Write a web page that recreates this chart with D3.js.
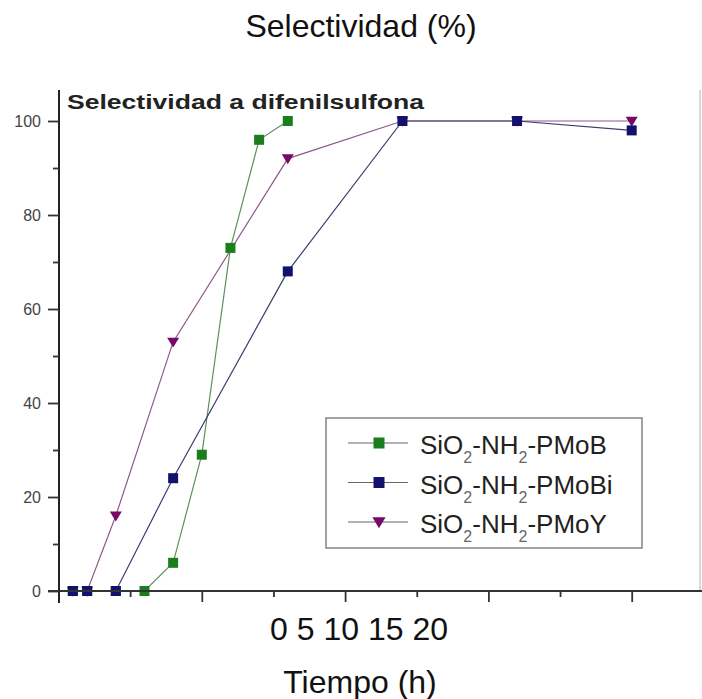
<!DOCTYPE html>
<html>
<head>
<meta charset="utf-8">
<script src="https://cdn.jsdelivr.net/npm/d3@7"></script>
<style>
  html, body { margin: 0; padding: 0; background: #fff; }
  svg { display: block; font-family: "Liberation Sans", Arial, sans-serif; }
</style>
</head>
<body>
<svg id="chart" width="702" height="699"></svg>
<script>
// ---- data ----
const seriesNames = ["PMoB", "PMoBi", "PMoY"];
const timePMoB  = [0.5, 1, 2, 3, 4, 5, 6, 7, 8];
const valuesPMoB = [0, 0, 0, 0, 6, 29, 73, 96, 100];
const timePMoBi  = [0.5, 1, 2, 4, 8, 12, 16, 20];
const valuesPMoBi = [0, 0, 0, 24, 68, 100, 100, 98];
const timePMoY  = [0.5, 1, 2, 4, 8, 12, 16, 20];
const valuesPMoY = [0, 0, 16, 53, 92, 100, 100, 100];
const yTickValues = [0, 20, 40, 60, 80, 100];
const yMinorTicks = [10, 30, 50, 70, 90];
const xMajorTicks = [5, 10, 15, 20];
const xMinorTicks = [2.5, 7.5, 12.5, 17.5];
const xTickText = "0 5 10 15 20";
const titleText = "Selectividad (%)";
const innerTitle = "Selectividad a difenilsulfona";
const xLabel = "Tiempo (h)";

const series = [
  { name: "PMoY", t: timePMoY, v: valuesPMoY, color: "#760a66", line: "#8c5a8a", shape: "tri" },
  { name: "PMoB", t: timePMoB, v: valuesPMoB, color: "#1b7d1b", line: "#5f8f5f", shape: "sq" },
  { name: "PMoBi", t: timePMoBi, v: valuesPMoBi, color: "#12126e", line: "#3c3c6c", shape: "sq" }
];
const legendOrder = ["PMoB", "PMoBi", "PMoY"];

const svg = d3.select("#chart");
const x = d3.scaleLinear().domain([0, 20]).range([58.5, 631.7]);
const y = d3.scaleLinear().domain([0, 100]).range([591, 121]);

// title
svg.append("text").attr("x", 361).attr("y", 37).attr("text-anchor", "middle")
  .attr("font-size", 32).attr("fill", "#111").text(titleText);

// right frame
svg.append("line").attr("x1", 700).attr("x2", 700).attr("y1", 90).attr("y2", 591)
  .attr("stroke", "#b0b0b0").attr("stroke-width", 1);

// series lines and markers
const lineGen = d3.line().x(d => x(d[0])).y(d => y(d[1]));
function marker(g, shape, color, cx, cy, s) {
  if (shape === "sq") {
    g.append("rect").attr("x", cx - s / 2).attr("y", cy - s / 2).attr("width", s).attr("height", s)
      .attr("fill", color);
  } else {
    const h = s * 0.95;
    g.append("path").attr("d", `M${cx - s * 0.6},${cy - h * 0.45} L${cx + s * 0.6},${cy - h * 0.45} L${cx},${cy + h * 0.6} Z`)
      .attr("fill", color);
  }
}
series.forEach(s => {
  const pts = s.t.map((t, i) => [t, s.v[i]]);
  svg.append("path").attr("d", lineGen(pts)).attr("fill", "none")
    .attr("stroke", s.line).attr("stroke-width", 1.2);
});
series.forEach(s => {
  const g = svg.append("g");
  s.t.forEach((t, i) => marker(g, s.shape, s.color, x(t), y(s.v[i]), 10));
});

// axes
const axG = svg.append("g");
axG.append("line").attr("x1", 48).attr("x2", 702).attr("y1", 591).attr("y2", 591)
  .attr("stroke", "#333").attr("stroke-width", 2);
axG.append("line").attr("x1", 59).attr("x2", 59).attr("y1", 90).attr("y2", 603)
  .attr("stroke", "#222").attr("stroke-width", 2);

const xMaj = svg.append("g").attr("transform", "translate(0,591)")
  .call(d3.axisBottom(x).tickValues(xMajorTicks).tickSize(11).tickFormat(""));
const xMin = svg.append("g").attr("transform", "translate(0,591)")
  .call(d3.axisBottom(x).tickValues(xMinorTicks).tickSize(6).tickFormat(""));
const yMaj = svg.append("g").attr("transform", "translate(59,0)")
  .call(d3.axisLeft(y).tickValues(yTickValues).tickSize(11).tickPadding(7));
const yMin = svg.append("g").attr("transform", "translate(59,0)")
  .call(d3.axisLeft(y).tickValues(yMinorTicks).tickSize(6).tickFormat(""));
[xMaj, xMin, yMaj, yMin].forEach(g => {
  g.select(".domain").remove();
  g.selectAll(".tick line").attr("stroke", "#333").attr("stroke-width", 1.8);
});
yMaj.selectAll(".tick text").attr("font-size", 16).attr("fill", "#444")
  .attr("font-family", "'Liberation Sans', Arial, sans-serif");

// inner title
svg.append("text").attr("x", 67).attr("y", 109).attr("font-size", 20).attr("font-weight", "bold")
  .attr("fill", "#222").attr("textLength", 357).attr("lengthAdjust", "spacingAndGlyphs")
  .text(innerTitle);

// legend
const lg = svg.append("g");
lg.append("rect").attr("x", 326).attr("y", 418).attr("width", 316).attr("height", 130)
  .attr("fill", "#fff").attr("stroke", "#666").attr("stroke-width", 1.2);
legendOrder.forEach((name, i) => {
  const s = series.find(d => d.name === name);
  const cy = 443 + i * 39.5;
  lg.append("line").attr("x1", 348).attr("x2", 408).attr("y1", cy).attr("y2", cy)
    .attr("stroke", "#666").attr("stroke-width", 1.2);
  marker(lg, s.shape, s.color, 379, cy, 11);
  const t = lg.append("text").attr("x", 420).attr("y", cy + 11).attr("font-size", 26).attr("fill", "#222");
  t.append("tspan").text("SiO");
  t.append("tspan").attr("font-size", 16).attr("dy", 9).attr("fill", "#666").text("2");
  t.append("tspan").attr("dy", -9).text("-NH");
  t.append("tspan").attr("font-size", 16).attr("dy", 9).attr("fill", "#666").text("2");
  t.append("tspan").attr("dy", -9).text("-P" + "Mo" + name.slice(3));
});

// bottom labels
svg.append("text").attr("x", 359).attr("y", 640).attr("text-anchor", "middle")
  .attr("font-size", 32).attr("fill", "#111").text(xTickText);
svg.append("text").attr("x", 360).attr("y", 693).attr("text-anchor", "middle")
  .attr("font-size", 32).attr("fill", "#111").text(xLabel);
</script>
</body>
</html>
